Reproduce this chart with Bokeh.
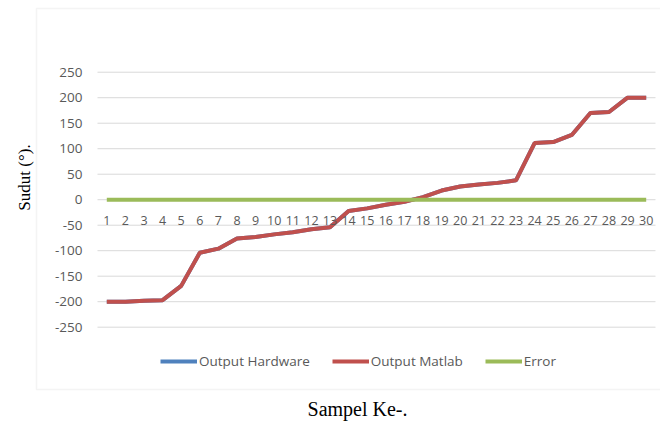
import math
from bokeh.plotting import figure
from bokeh.models import (Range1d, Legend, LegendItem, Label,
                          BoxAnnotation, ColumnDataSource)
from bokeh.core.properties import value
from bokeh.embed import file_html
from bokeh.resources import INLINE

# ---- data ----
samples = list(range(1, 31))
output_matlab = [-200, -200, -198, -197, -169, -104, -96, -76, -73, -68,
                 -64, -58, -54, -22, -17, -10, -4, 5, 18, 26,
                 30, 33, 38, 111, 113, 127, 170, 172, 200, 200]
output_hardware = list(output_matlab)
error = [0] * 30
y_ticks = [-250, -200, -150, -100, -50, 0, 50, 100, 150, 200, 250]
x_tick_labels = [str(s) for s in samples]
y_tick_labels = [str(t) for t in y_ticks]

x_label = "Sampel Ke-."
y_label = "Sudut (°)."
series_names = ["Output Hardware", "Output Matlab", "Error"]
colors = ["#4F81BD", "#C0504D", "#9BBB59"]

TXT = "#595959"
GRID = "#d9d9d9"

W, H = 660, 421
# category axis: half a category of padding at each side of the plot area
x_lo = samples[0] - 0.5
x_hi = samples[-1] + 0.5

p = figure(width=W, height=H, output_backend="svg", toolbar_location=None,
           x_range=Range1d(-4.715, 30.769), y_range=Range1d(-434.9, 390.6),
           x_axis_location=None, y_axis_location=None,
           min_border=0, min_border_left=0, min_border_right=0,
           min_border_top=0, min_border_bottom=0,
           background_fill_color="white", border_fill_color="white",
           outline_line_color=None)
p.grid.visible = False

# chart area border
p.add_layout(BoxAnnotation(left=36, right=W + 5, top=H - 8, bottom=H - 389,
                           left_units="screen", right_units="screen",
                           top_units="screen", bottom_units="screen",
                           fill_alpha=0, line_color=GRID, line_width=1.5,
                           level="underlay"))

# horizontal gridlines
p.segment(x0=[x_lo] * len(y_ticks), x1=[x_hi] * len(y_ticks), y0=y_ticks, y1=y_ticks,
          line_color=GRID, line_width=1)

# series
src = ColumnDataSource(dict(x=samples, hw=output_hardware, ml=output_matlab, er=error))
r_hw = p.line("x", "hw", source=src, line_color=colors[0], line_width=4)
r_ml = p.line("x", "ml", source=src, line_color=colors[1], line_width=4)
r_er = p.line("x", "er", source=src, line_color=colors[2], line_width=4)

# y tick labels (left of plot area)
p.text(x=[x_lo] * len(y_ticks), y=y_ticks, text=y_tick_labels, x_offset=-15,
       text_align="right", text_baseline="middle",
       text_font=value("Open Sans"), text_font_size="13.5px", text_color=TXT)

# x tick labels (axis crosses at 0)
p.text(x=samples, y=[0] * len(samples), text=x_tick_labels, y_offset=21,
       text_align="center", text_baseline="middle",
       text_font=value("Open Sans"), text_font_size="12.5px", text_color=TXT)

# axis titles
p.add_layout(Label(x=24, y=H - 177, x_units="screen", y_units="screen", text=y_label,
                   angle=math.pi / 2, text_align="center", text_baseline="middle",
                   text_font="Liberation Serif", text_font_size="17px",
                   text_color="black"))
p.add_layout(Label(x=357, y=H - 408, x_units="screen", y_units="screen", text=x_label,
                   text_align="center", text_baseline="middle",
                   text_font="Liberation Serif", text_font_size="20px",
                   text_color="black"))

legend = Legend(items=[LegendItem(label=series_names[0], renderers=[r_hw]),
                       LegendItem(label=series_names[1], renderers=[r_ml]),
                       LegendItem(label=series_names[2], renderers=[r_er])],
                location=(160, H - 371), orientation="horizontal",
                glyph_width=37, glyph_height=20, label_standoff=2, spacing=22,
                padding=0, margin=0, border_line_color=None,
                background_fill_alpha=0,
                label_text_font="Open Sans", label_text_font_size="13.5px",
                label_text_color=TXT)
p.add_layout(legend)

open("out.html", "w").write(file_html(p, INLINE))
